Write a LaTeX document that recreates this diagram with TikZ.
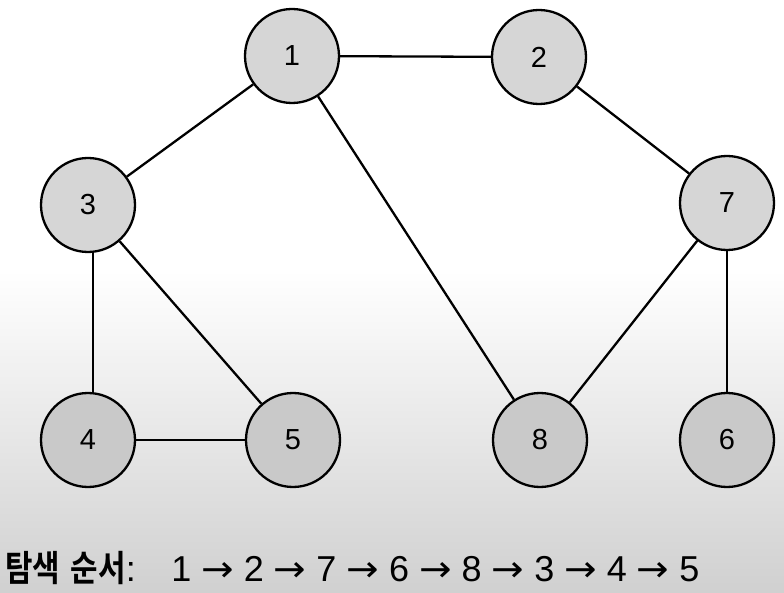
\documentclass[tikz,border=0pt]{standalone}
\usepackage{fontspec}
\setmainfont{Liberation Sans}
\newfontfamily\krfont{Noto Sans CJK KR Bold}[FakeStretch=0.83]
\newfontfamily\seqfont{Liberation Sans}
\newfontfamily\arrfont{DejaVu Sans}[FakeStretch=1.08]
\definecolor{nodetop}{HTML}{D6D6D6}
\definecolor{nodebot}{HTML}{C9C9C9}
\definecolor{bgbot}{HTML}{D0D0D0}
\tikzset{
  vtx/.style={circle, draw=black, line width=2.3pt, minimum size=94pt, inner sep=0pt,
    font=\fontsize{29}{30}\selectfont},
  vtop/.style={vtx, fill=nodetop},
  vbot/.style={vtx, fill=nodebot},
  edge/.style={draw=black, line width=2.3pt},
}
\newcommand{\ra}{{\arrfont →}}
\begin{document}
\begin{tikzpicture}[x=1pt,y=-1pt]
\useasboundingbox (0,0) rectangle (784,593);
\fill[white] (0,0) rectangle (784,270);
\shade[top color=white, bottom color=bgbot] (0,270) rectangle (784,593);
\node[vtop] (n1) at (292,56) {1};
\node[vtop] (n2) at (539,57) {2};
\node[vtop] (n3) at (88,205) {3};
\node[vtop] (n7) at (727,203) {7};
\node[vbot] (n4) at (88,440) {4};
\node[vbot] (n5) at (293,440) {5};
\node[vbot] (n8) at (540,440) {8};
\node[vbot] (n6) at (727,440) {6};
\draw[edge] (n1) -- (n2);
\draw[edge] (n1) -- (n3);
\draw[edge] (n1) -- (n8);
\draw[edge] (n2) -- (n7);
\draw[edge] ([xshift=5pt]n3.south) -- ([xshift=5pt]n4.north);
\draw[edge] (n3) -- (n5);
\draw[edge] (n4) -- (n5);
\draw[edge] (n7) -- (n8);
\draw[edge] (n7) -- (n6);
\node[anchor=base west, inner sep=0pt, font=\fontsize{36}{38}\selectfont] (seq) at (5,581)
  {{\krfont 탐색\hspace{4pt} 순서}{\seqfont:\hspace{22pt} 1 \ra{} 2 \ra{} 7 \ra{} 6 \ra{} 8 \ra{} 3 \ra{} 4 \ra{} 5}};
\end{tikzpicture}
\end{document}
